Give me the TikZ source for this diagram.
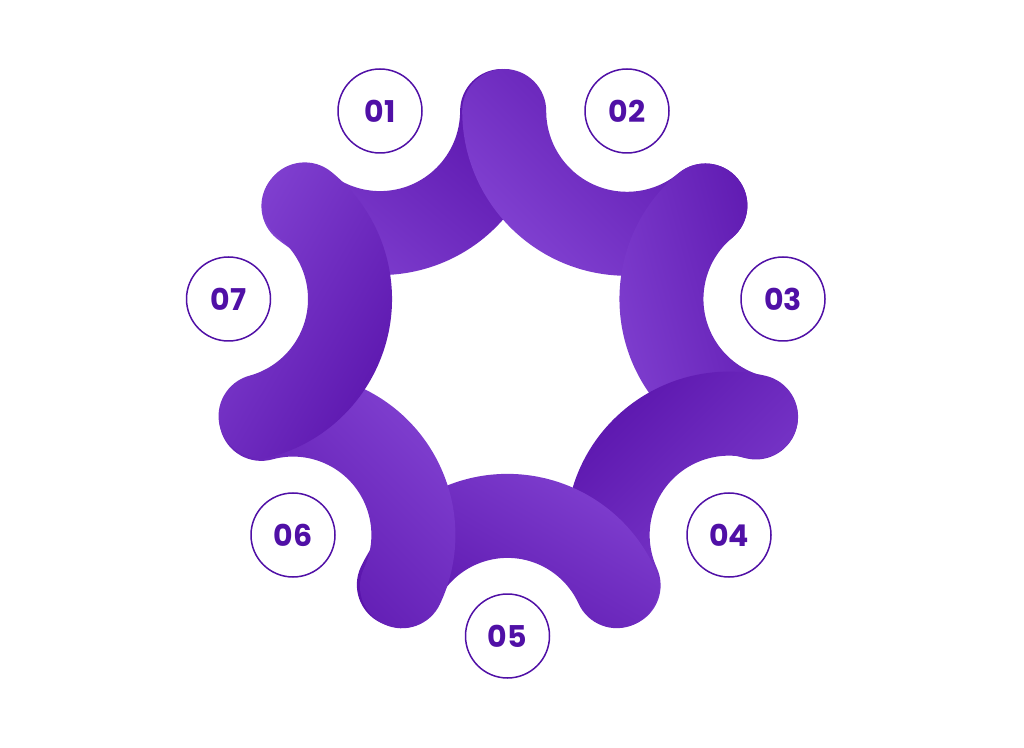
\documentclass[tikz,border=0pt]{standalone}
\usepackage{fontspec}
\newfontfamily\poppins{Poppins}
\definecolor{ringdark}{RGB}{90,20,172}
\definecolor{ringlight}{RGB}{130,66,210}
\definecolor{numcolor}{RGB}{80,16,166}
\tikzset{
  numlabel/.style={circle, draw=numcolor, line width=1.5pt, minimum size=84pt, inner sep=0pt,
    text=numcolor, font=\poppins\bfseries\fontsize{30}{30}\selectfont},
  ringarc/.style={top color=ringdark, bottom color=ringlight}
}
\begin{document}
\begin{tikzpicture}[x=1pt,y=1pt]
\useasboundingbox (0,0) rectangle (1024,747);
\node [numlabel] (n01) at (380,636) {01};
\node [numlabel] (n02) at (627,636) {02};
\node [numlabel] (n03) at (783,448) {03};
\node [numlabel] (n04) at (729,212) {04};
\node [numlabel] (n05) at (507.5,111) {05};
\node [numlabel] (n06) at (293,212) {06};
\node [numlabel] (n07) at (228.5,448) {07};
% arcs round the numbers, each one over the one before
\shade [ringarc, shading angle=-40] ([shift={(n01.center)}]231.14:164.1) arc [start angle=231.14, end angle=360, radius=164.1] arc [start angle=360, delta angle=180, radius=42] arc [start angle=360, end angle=231.14, radius=80.1] arc [start angle=411.14, delta angle=180, radius=42] -- cycle;
\shade [ringarc, shading angle=-45] ([shift={(n02.center)}]180:164.8) arc [start angle=180, end angle=309.69, radius=164.8] arc [start angle=309.69, delta angle=180, radius=42] arc [start angle=309.69, end angle=180, radius=80.8] arc [start angle=360, delta angle=180, radius=42] -- cycle;
\shade [ringarc, shading angle=-75] ([shift={(n03.center)}]129.69:163.55) arc [start angle=129.69, end angle=257.11, radius=163.55] arc [start angle=257.11, delta angle=180, radius=42] arc [start angle=257.11, end angle=129.69, radius=79.55] arc [start angle=309.69, delta angle=180, radius=42] -- cycle;
\shade [ringarc, shading angle=45] ([shift={(n04.center)}]77.11:163.35) arc [start angle=77.11, end angle=204.51, radius=163.35] arc [start angle=204.51, delta angle=180, radius=42] arc [start angle=204.51, end angle=77.11, radius=79.35] arc [start angle=257.11, delta angle=180, radius=42] -- cycle;
\shade [ringarc, shading angle=150] ([shift={(n05.center)}]24.51:162.1) arc [start angle=24.51, end angle=154.79, radius=162.1] arc [start angle=154.79, delta angle=180, radius=42] arc [start angle=154.79, end angle=24.51, radius=78.1] arc [start angle=204.51, delta angle=180, radius=42] -- cycle;
\shade [ringarc, shading angle=135] ([shift={(n06.center)}]-25.21:162.4) arc [start angle=-25.21, end angle=105.29, radius=162.4] arc [start angle=105.29, delta angle=180, radius=42] arc [start angle=105.29, end angle=-25.21, radius=78.4] arc [start angle=154.79, delta angle=180, radius=42] -- cycle;
\shade [ringarc, shading angle=-120] ([shift={(n07.center)}]-74.71:163.5) arc [start angle=-74.71, end angle=51.14, radius=163.5] arc [start angle=51.14, delta angle=180, radius=42] arc [start angle=51.14, end angle=-74.71, radius=79.5] arc [start angle=105.29, delta angle=180, radius=42] -- cycle;
\end{tikzpicture}
\end{document}
